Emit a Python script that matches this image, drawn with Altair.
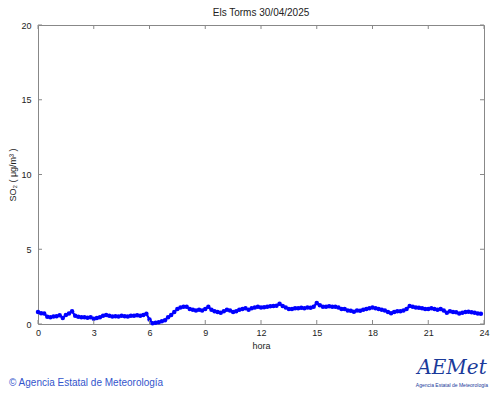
import altair as alt
import pandas as pd

title_text = "Els Torms 30/04/2025"
x_ticks = [0, 3, 6, 9, 12, 15, 18, 21, 24]
y_ticks = [0, 5, 10, 15, 20]

so2 = [
    0.80, 0.72, 0.70, 0.48, 0.45, 0.50,
    0.52, 0.58, 0.40, 0.60, 0.70, 0.85,
    0.55, 0.48, 0.45, 0.45, 0.42, 0.45,
    0.35, 0.40, 0.45, 0.55, 0.60, 0.55,
    0.50, 0.52, 0.50, 0.55, 0.52, 0.50,
    0.55, 0.55, 0.58, 0.55, 0.60, 0.68,
    0.30, 0.05, 0.08, 0.12, 0.18, 0.25,
    0.45, 0.60, 0.80, 1.00, 1.10, 1.15,
    1.15, 1.00, 0.95, 0.90, 0.95, 0.90,
    1.00, 1.15, 0.95, 0.85, 0.80, 0.75,
    0.85, 0.95, 0.90, 0.80, 0.85, 0.95,
    1.00, 1.05, 0.95, 1.05, 1.10, 1.15,
    1.10, 1.12, 1.15, 1.18, 1.20, 1.22,
    1.35, 1.20, 1.10, 1.00, 1.00, 1.05,
    1.05, 1.08, 1.05, 1.10, 1.08, 1.15,
    1.40, 1.25, 1.15, 1.15, 1.18, 1.15,
    1.15, 1.10, 1.00, 1.00, 0.90, 0.88,
    0.82, 0.90, 0.88, 0.95, 1.00, 1.05,
    1.10, 1.05, 1.00, 0.95, 0.90, 0.80,
    0.72, 0.80, 0.85, 0.85, 0.90, 1.00,
    1.20, 1.15, 1.10, 1.08, 1.05, 1.00,
    1.00, 1.05, 1.00, 0.95, 1.00, 0.90,
    0.75, 0.85, 0.80, 0.78, 0.70, 0.75,
    0.80, 0.82, 0.78, 0.75, 0.70, 0.68,
]
hours = [i / 6 for i in range(len(so2))]

df = pd.DataFrame({"hora": hours, "so2": so2})
xt = pd.DataFrame({"t": x_ticks})
yt = pd.DataFrame({"t": y_ticks})

W, H = 446, 299
FONT = "Liberation Sans"

xscale = alt.Scale(domain=[0, 24], nice=False, zero=False)
yscale = alt.Scale(domain=[0, 20], nice=False)

x_enc = alt.X("hora:Q", scale=xscale,
              axis=alt.Axis(values=x_ticks, title="hora", tickSize=0, labelPadding=4,
                            grid=False, domain=False, titlePadding=4, labelFlush=False))
y_enc = alt.Y("so2:Q", scale=yscale,
              axis=alt.Axis(values=y_ticks, title="SO₂ ( μg/m³ )", tickSize=0, labelPadding=7,
                            grid=False, domain=False, titlePadding=3))

line = alt.Chart(df).mark_line(color="#0000ff", strokeWidth=2.2).encode(x=x_enc, y=y_enc)
pts = alt.Chart(df).mark_circle(color="#0000ff", size=20, opacity=1).encode(x="hora:Q", y="so2:Q")

xt_bot = alt.Chart(xt).mark_rule(color="#888888").encode(
    x=alt.X("t:Q", scale=xscale), y=alt.value(H), y2=alt.value(H - 4))
xt_top = alt.Chart(xt).mark_rule(color="#888888").encode(
    x=alt.X("t:Q", scale=xscale), y=alt.value(0), y2=alt.value(4))
yt_left = alt.Chart(yt).mark_rule(color="#888888").encode(
    y=alt.Y("t:Q", scale=yscale), x=alt.value(0), x2=alt.value(4))
yt_right = alt.Chart(yt).mark_rule(color="#888888").encode(
    y=alt.Y("t:Q", scale=yscale), x=alt.value(W), x2=alt.value(W - 4))

footer = alt.Chart(pd.DataFrame({"s": ["© Agencia Estatal de Meteorología"]})).mark_text(
    align="left", baseline="middle", fontSize=10, color="#3355cc", font=FONT
).encode(text="s:N", x=alt.value(-29), y=alt.value(358))

logo = alt.Chart(pd.DataFrame({"s": ["AEMet"]})).mark_text(
    align="center", baseline="middle", fontSize=20, color="#1a3a9a", font="DejaVu Serif",
    fontStyle="italic"
).encode(text="s:N", x=alt.value(414), y=alt.value(343))
logo_sub = alt.Chart(pd.DataFrame({"s": ["Agencia Estatal de Meteorología"]})).mark_text(
    align="center", baseline="middle", fontSize=5, color="#1a3a9a", font=FONT
).encode(text="s:N", x=alt.value(414), y=alt.value(360))

chart = alt.layer(line, pts, xt_bot, xt_top, yt_left, yt_right, footer, logo, logo_sub).properties(
    width=W, height=H,
    title=alt.TitleParams(title_text, fontSize=10, fontWeight="normal", font=FONT,
                          color="#222222", offset=3),
    autosize=alt.AutoSizeParams(type="none"),
    padding={"left": 30, "top": 17, "right": 8, "bottom": 70},
    background="white",
).configure_view(stroke="#888888", strokeWidth=1).configure_axis(
    labelFont=FONT, titleFont=FONT, labelFontSize=9, titleFontSize=9,
    labelColor="#222222", titleColor="#222222", titleFontWeight="normal"
)

chart.save("out.html", embed_options={"renderer": "svg", "actions": False})
